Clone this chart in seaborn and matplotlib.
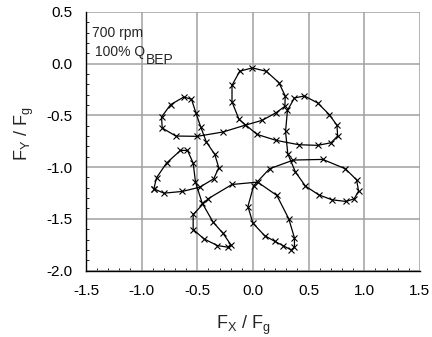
import matplotlib
matplotlib.use("Agg")
import matplotlib.pyplot as plt
import seaborn as sns
import pandas as pd
from matplotlib.ticker import MultipleLocator, FormatStrFormatter

# Force locus (F_X/F_g, F_Y/F_g) in measured order
fx = [-0.890, -0.800, -0.633, -0.478, -0.352, -0.307, -0.343, -0.418, -0.469, -0.513,
      -0.552, -0.621, -0.740, -0.821, -0.815, -0.693, -0.501,
      -0.269, -0.075, 0.084, 0.209, 0.287,
      0.290, 0.233, 0.119, -0.006, -0.119, -0.188, -0.188, -0.125,
      0.036, 0.209, 0.412, 0.582, 0.701, 0.761, 0.755, 0.687, 0.582, 0.463, 0.373,
      0.310, 0.293, 0.313,
      0.382, 0.472, 0.591, 0.710, 0.836, 0.910, 0.949, 0.931, 0.830, 0.627, 0.364, 0.149, 0.006,
      -0.045, 0.000, 0.104, 0.194, 0.269, 0.343, 0.373, 0.373, 0.322, 0.215, 0.042,
      -0.188, -0.403, -0.537, -0.537, -0.439, -0.319, -0.224, -0.200, -0.269, -0.358, -0.457,
      -0.516, -0.537, -0.588, -0.651, -0.776, -0.866, -0.890]
fy = [-1.210, -1.252, -1.235, -1.194, -1.113, -1.006, -0.877, -0.758, -0.613, -0.474,
      -0.345, -0.323, -0.397, -0.516, -0.623, -0.700, -0.703,
      -0.661, -0.597, -0.548, -0.474, -0.413,
      -0.313, -0.184, -0.074, -0.042, -0.074, -0.210, -0.371, -0.539,
      -0.684, -0.742, -0.784, -0.790, -0.765, -0.700, -0.597, -0.494, -0.381, -0.313, -0.332,
      -0.452, -0.655, -0.871,
      -1.048, -1.184, -1.268, -1.316, -1.332, -1.306, -1.232, -1.123, -1.016, -0.926, -0.932, -1.016, -1.181,
      -1.381, -1.542, -1.661, -1.716, -1.758, -1.800, -1.774, -1.684, -1.500, -1.274, -1.145,
      -1.168, -1.306, -1.458, -1.603, -1.694, -1.758, -1.774, -1.748, -1.639, -1.532, -1.345,
      -1.145, -0.961, -0.839, -0.839, -0.961, -1.103, -1.210]

xticks = [-1.5, -1.0, -0.5, 0.0, 0.5, 1.0, 1.5]
yticks = [-2.0, -1.5, -1.0, -0.5, 0.0, 0.5]
annot_line1 = "700 rpm"
annot_line2 = "100% Q"
annot_sub = "BEP"

sns.set_theme(style="white")
plt.rcParams['font.family'] = ['Liberation Sans', 'DejaVu Sans']
plt.rcParams['mathtext.fontset'] = 'custom'
plt.rcParams['mathtext.rm'] = 'Liberation Sans'
plt.rcParams['mathtext.it'] = 'Liberation Sans'

df = pd.DataFrame({"fx": fx, "fy": fy, "order": range(len(fx))})

fig = plt.figure(figsize=(4.32, 3.37), dpi=100)
ax = fig.add_axes([0.199, 0.197, 0.773, 0.768])

ax.grid(True, color="#a0a0a0", linewidth=1.1)
ax.set_axisbelow(True)

sns.lineplot(data=df, x="fx", y="fy", sort=False, estimator=None, ax=ax,
             color="black", linewidth=0.9, marker="x", markersize=4,
             markeredgewidth=0.8, markeredgecolor="black")

ax.set_xlim(-1.5, 1.5)
ax.set_ylim(-2.0, 0.5)
ax.set_xticks(xticks)
ax.set_yticks(yticks)
ax.xaxis.set_major_formatter(FormatStrFormatter('%.1f'))
ax.yaxis.set_major_formatter(FormatStrFormatter('%.1f'))
ax.xaxis.set_minor_locator(MultipleLocator(0.1))
ax.yaxis.set_minor_locator(MultipleLocator(0.1))
ax.tick_params(axis='both', which='major', length=0, pad=10, labelsize=11, colors='black')
ax.tick_params(axis='both', which='minor', direction='in', length=2.5, width=0.6,
               color='black', bottom=True, left=True, top=False, right=False)

for s in ["top", "right"]:
    ax.spines[s].set_visible(False)
for s in ["left", "bottom"]:
    ax.spines[s].set_visible(True)
    ax.spines[s].set_color("black")
    ax.spines[s].set_linewidth(1.0)

ax.set_xlabel(r"$\mathregular{F_X\ /\ F_g}$", fontsize=13)
ax.set_ylabel(r"$\mathregular{F_Y\ /\ F_g}$", fontsize=13)
ax.xaxis.set_label_coords(0.47, -0.165)
ax.yaxis.set_label_coords(-0.15, 0.53)

ax.text(-1.445, 0.297, annot_line1, fontsize=10, ha="left", va="center")
ax.text(-1.42, 0.113, annot_line2, fontsize=10, ha="left", va="center")
ax.text(-0.96, 0.03, annot_sub, fontsize=10, ha="left", va="center")

fig.savefig("out.png", dpi=100)
